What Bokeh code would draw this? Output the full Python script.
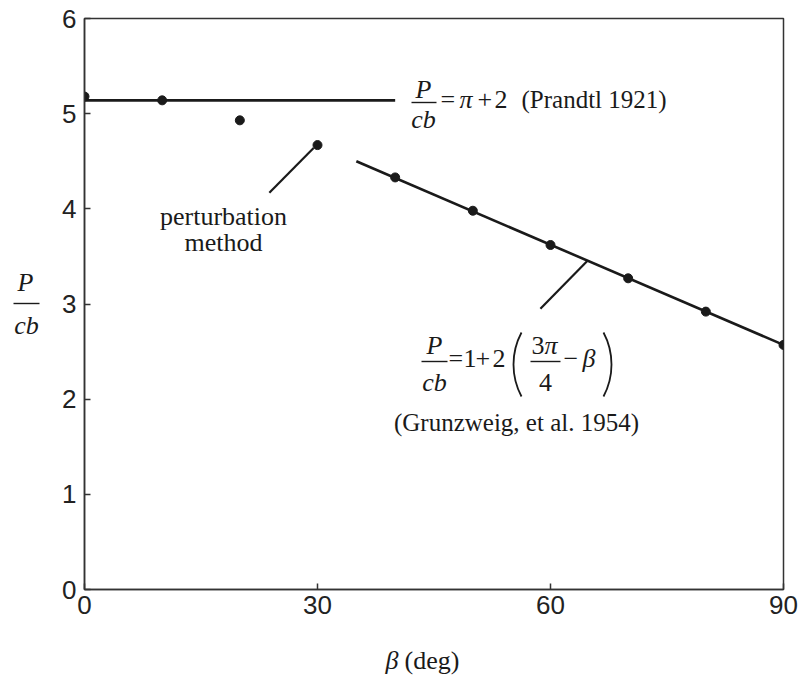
import math

from bokeh.plotting import figure
from bokeh.models import Range1d, FixedTicker
from bokeh.core.properties import value
from bokeh.embed import file_html
from bokeh.resources import INLINE

# Bearing capacity P/cb of a wedge versus its half-angle beta (degrees)
beta_deg = [0, 10, 20, 30, 40, 50, 60, 70, 80, 90]
load_ratio = [5.18, 5.14, 4.93, 4.67, 4.33, 3.98, 3.62, 3.27, 2.92, 2.57]

# Prandtl (1921): P/cb = pi + 2
prandtl_beta = [0, 40]
prandtl_ratio = [5.14, 5.14]

# Grunzweig et al. (1954): P/cb = 1 + 2(3pi/4 - beta)
grunzweig_beta = [35, 90]
grunzweig_ratio = [4.50, 2.57]

x_ticks = [0, 30, 60, 90]
y_ticks = [0, 1, 2, 3, 4, 5, 6]

# canvas and plot-frame geometry (pixels)
W, H = 801, 680
L, R, T, B = 84, 783, 18, 589
X0, X1, Y0, Y1 = 0, 90, 0, 6

INK = "#1a1a1a"
SERIF = "Liberation Serif"
SANS = "Liberation Sans"

p = figure(width=W, height=H, output_backend="svg", toolbar_location=None,
           x_range=Range1d(X0, X1), y_range=Range1d(Y0, Y1),
           min_border_left=L, min_border_right=W - R,
           min_border_top=T, min_border_bottom=H - B)
p.background_fill_color = "white"
p.border_fill_color = "white"
p.grid.visible = False
p.outline_line_color = "#333333"
p.outline_line_width = 1.5

p.xaxis.ticker = FixedTicker(ticks=x_ticks, minor_ticks=[])
p.yaxis.ticker = FixedTicker(ticks=y_ticks, minor_ticks=[])
for ax in (p.xaxis, p.yaxis):
    ax.axis_line_color = "#333333"
    ax.axis_line_width = 1.5
    ax.major_tick_line_color = "#333333"
    ax.major_tick_line_width = 1.5
    ax.major_tick_in = 6
    ax.major_tick_out = 0
    ax.minor_tick_in = 0
    ax.minor_tick_out = 0
    ax.major_label_text_font = SANS
    ax.major_label_text_font_size = "26px"
    ax.major_label_text_color = "#222222"
p.xaxis.major_label_standoff = 6
p.yaxis.major_label_standoff = 8


def tx(px):
    """canvas x pixel -> data x"""
    return X0 + (px - L) / (R - L) * (X1 - X0)


def ty(py):
    """canvas y pixel -> data y"""
    return Y0 + (B - py) / (B - T) * (Y1 - Y0)


def put(px, py, s, size=26, style="normal", align="left", font=SERIF):
    # py is the wanted baseline; the renderer places glyphs ~0.32 em lower
    p.text(x=[tx(px)], y=[ty(py - 0.32 * size)], text=[s], text_font=value(font),
           text_font_size=f"{size}px", text_font_style=style,
           text_align=align, text_baseline="alphabetic",
           text_color=INK, level="overlay")


def rule(px0, px1, py, w=1.4):
    p.segment(x0=[tx(px0)], y0=[ty(py)], x1=[tx(px1)], y1=[ty(py)],
              line_width=w, line_color=INK, level="overlay")


def paren(px_edge, py_mid, half_h, bulge, opening=True, w=1.8):
    # large round bracket drawn as a shallow circular arc
    r = (half_h ** 2 + bulge ** 2) / (2 * bulge)
    a = math.degrees(math.asin(half_h / r))
    if opening:
        cx, start, end = px_edge + r, 180 - a, 180 + a
    else:
        cx, start, end = px_edge - r, -a, a
    p.arc(x=[tx(cx)], y=[ty(py_mid)], radius=r, radius_units="screen",
          start_angle=start, end_angle=end, start_angle_units="deg",
          end_angle_units="deg", line_color=INK, line_width=w, level="overlay")


# theory lines
p.line(prandtl_beta, prandtl_ratio, line_color=INK, line_width=2.6)
p.line(grunzweig_beta, grunzweig_ratio, line_color=INK, line_width=2.6)

# leader lines pointing at the curves
p.segment(x0=[29.5], y0=[4.64], x1=[23.8], y1=[4.17], line_color=INK, line_width=2.2)
p.segment(x0=[64.7], y0=[3.45], x1=[58.7], y1=[2.95], line_color=INK, line_width=2.2)

# perturbation-method results
p.scatter(beta_deg, load_ratio, size=9, marker="circle",
          fill_color=INK, line_color=INK)

# Prandtl formula
put(423, 97, "P", style="italic", align="center")
rule(411, 436, 102)
put(423, 127, "cb", style="italic", align="center")
put(440, 107, "=")
put(459, 107, "\u03c0", style="italic")
put(477, 107, "+")
put(494, 107, "2")
put(521, 107, "(Prandtl 1921)", size=25)

# Grunzweig formula
put(434, 353, "P", style="italic", align="center")
rule(421, 447, 361)
put(434, 390, "cb", style="italic", align="center")
put(448, 366, "=")
put(463, 366, "1")
put(475, 366, "+")
put(492, 366, "2")
paren(513, 364, 32, 8, opening=True)
put(531, 353, "3")
put(544, 353, "\u03c0", style="italic")
rule(530, 560, 361)
put(545, 390, "4", align="center")
put(563, 366, "\u2212")
put(582, 366, "\u03b2", style="italic")
paren(611, 364, 32, 8, opening=False)
put(516, 430, "(Grunzweig, et al. 1954)", size=25, align="center")

# perturbation method label
put(223, 224, "perturbation", align="center")
put(223, 250, "method", align="center")

# axis titles
put(25, 290, "P", style="italic", align="center")
rule(13, 39, 303)
put(26, 333, "cb", style="italic", align="center")
put(385, 668, "\u03b2", style="italic")
put(404, 668, "(deg)")

open("out.html", "w").write(file_html(p, INLINE))
